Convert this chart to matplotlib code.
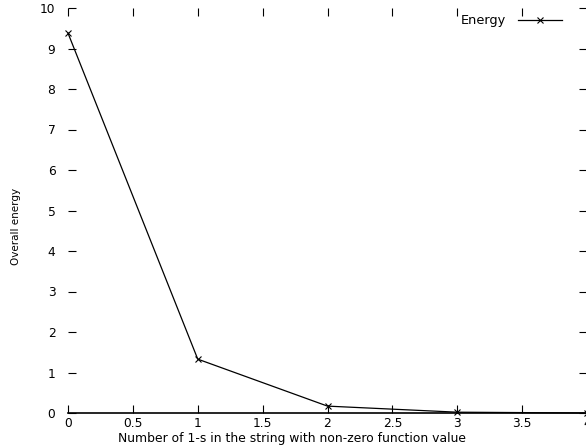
import matplotlib
matplotlib.use("Agg")
import matplotlib.pyplot as plt

x_vals = [0, 1, 2, 3, 4]
energy = [9.38, 1.33, 0.17, 0.02, 0.0]
xticks = [0, 0.5, 1, 1.5, 2, 2.5, 3, 3.5, 4]
xticklabels = ["0", "0.5", "1", "1.5", "2", "2.5", "3", "3.5", "4"]
yticks = list(range(0, 11))

plt.rcParams['font.family'] = ['DejaVu Sans']

fig = plt.figure(figsize=(5.86, 4.47), dpi=100)
ax = fig.add_axes([68/586, 34/447, 519/586, 405/447])
ax.plot(x_vals, energy, color='black', lw=0.9, marker='x', ms=5, mew=0.8,
        label='Energy', clip_on=False)
ax.set_xlim(0, 4)
ax.set_ylim(0, 10)
ax.set_xticks(xticks)
ax.set_xticklabels(xticklabels)
ax.set_yticks(yticks)
for s in ['left', 'right', 'top']:
    ax.spines[s].set_visible(False)
ax.spines['bottom'].set_linewidth(1.2)
ax.tick_params(direction='in', length=6, width=0.8, top=True, right=True,
               labelsize=8.8, colors='black')
ax.tick_params(axis='y', pad=9)
ax.tick_params(axis='x', pad=3)
ax.set_xlabel('Number of 1-s in the string with non-zero function value',
              fontsize=8.9, labelpad=1)
ax.xaxis.set_label_coords((292 - 68) / 519, -0.046)
ax.set_ylabel('Overall energy', family='Liberation Sans Narrow', fontsize=7.5)
ax.yaxis.set_label_coords(-0.09, 0.46)
leg = ax.legend(loc='upper right', frameon=False, fontsize=9.3,
                handlelength=3.4, handletextpad=1.0, bbox_to_anchor=(0.965, 1.0),
                borderaxespad=0.1, markerfirst=False)
fig.savefig('out.png', dpi=100)
